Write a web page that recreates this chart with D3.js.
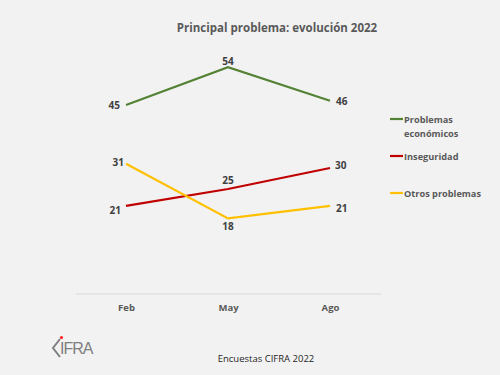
<!DOCTYPE html>
<html>
<head>
<meta charset="utf-8">
<script src="https://cdn.jsdelivr.net/npm/d3@7"></script>
<style>
  body { margin: 0; background: #f2f2f2; }
  svg { display: block; font-family: "Open Sans", "Liberation Sans", sans-serif; }
</style>
</head>
<body>
<svg id="chart" width="500" height="375"></svg>
<script>
let months = ["Feb", "May", "Ago"]
let economicos = [45, 54, 46]
let inseguridad = [21, 25, 30]
let otros = [31, 18, 21]

// label offsets from each point: [dx, dy, anchor]
let econLabels = [[-6, 4, "end"], [0, -2, "middle"], [6, 4, "start"]]
let insegLabels = [[-5, 8, "end"], [0, -5, "middle"], [5, 1, "start"]]
let otrosLabels = [[-2, 2, "end"], [0, 12, "middle"], [6, 6, "start"]]

let series = [
    { name: ["Problemas", "económicos"], values: economicos, color: "#548235", labels: econLabels, ly: 119 },
    { name: ["Inseguridad"], values: inseguridad, color: "#c00000", labels: insegLabels, ly: 156 },
    { name: ["Otros problemas"], values: otros, color: "#ffc000", labels: otrosLabels, ly: 193 }
]

let svg = d3.select("#chart")

svg.append("rect").attr("width", 500).attr("height", 375).attr("fill", "#f2f2f2")

svg.append("text")
    .attr("x", 277).attr("y", 32)
    .attr("text-anchor", "middle")
    .attr("font-size", "11.5px")
    .attr("font-weight", "bold")
    .attr("fill", "#595959")
    .text("Principal problema: evolución 2022")

let x = d3.scalePoint().domain(months).range([126, 330]).padding(0)
let y = d3.scaleLinear().domain([0, 60]).range([294, 42])

// axis baseline
svg.append("line")
    .attr("x1", 76).attr("x2", 381)
    .attr("y1", y(0)).attr("y2", y(0))
    .attr("stroke", "#d9d9d9").attr("stroke-width", 1)

let xAxis = svg.append("g")
    .attr("transform", "translate(0," + y(0) + ")")
    .call(d3.axisBottom(x).tickSize(0).tickPadding(10))
xAxis.select(".domain").remove()
xAxis.selectAll("text")
    .attr("font-size", "9.5px")
    .attr("font-weight", "bold")
    .attr("fill", "#595959")
    .attr("font-family", "Open Sans, Liberation Sans, sans-serif")

let line = d3.line()
    .x(function (d, i) { return x(months[i]) })
    .y(function (d) { return y(d) })

series.forEach(function (s) {
    svg.append("path")
        .datum(s.values)
        .attr("d", line)
        .attr("fill", "none")
        .attr("stroke", s.color)
        .attr("stroke-width", 2.2)

    s.values.forEach(function (v, i) {
        let off = s.labels[i]
        svg.append("text")
            .attr("x", x(months[i]) + off[0]).attr("y", y(v) + off[1])
            .attr("text-anchor", off[2])
            .attr("font-size", "10px")
            .attr("font-weight", "bold")
            .attr("fill", "#404040")
            .text(v)
    })

    // legend
    svg.append("line")
        .attr("x1", 390).attr("x2", 403)
        .attr("y1", s.ly).attr("y2", s.ly)
        .attr("stroke", s.color).attr("stroke-width", 2.2)
    s.name.forEach(function (t, k) {
        svg.append("text")
            .attr("x", 404).attr("y", s.ly + 3.5 + k * 14.5)
            .attr("font-size", "9.2px")
            .attr("font-weight", "bold")
            .attr("fill", "#595959")
            .text(t)
    })
})

// logo
let logo = svg.append("g").attr("transform", "translate(52,334)")
logo.append("path")
    .attr("d", "M8,5 L1,14 L8,23")
    .attr("fill", "none").attr("stroke", "#7f7f7f").attr("stroke-width", 2)
logo.append("circle").attr("cx", 9.5).attr("cy", 3.5).attr("r", 1.6).attr("fill", "#ff2020")
logo.append("text")
    .attr("x", 8).attr("y", 20)
    .attr("font-size", "16px")
    .attr("fill", "#7f7f7f")
    .attr("font-family", "Liberation Sans Narrow, Liberation Sans, sans-serif")
    .attr("letter-spacing", "-1px")
    .text("IFRA")

svg.append("text")
    .attr("x", 266).attr("y", 362)
    .attr("text-anchor", "middle")
    .attr("font-size", "9.5px")
    .attr("fill", "#262626")
    .text("Encuestas CIFRA 2022")
</script>
</body>
</html>
